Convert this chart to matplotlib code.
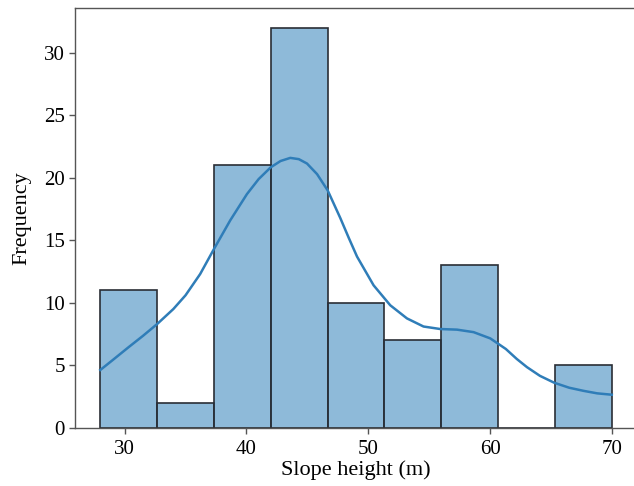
import numpy as np
import matplotlib
matplotlib.use("Agg")
import matplotlib.pyplot as plt

# Histogram data
counts = [11, 2, 21, 32, 10, 7, 13, 0, 5]
data_min, data_max = 28.0, 70.0

# KDE curve (x, frequency)
kde_x = [28.0, 29.0, 30.33, 31.5, 32.67, 34.0, 35.0, 36.2, 37.33, 38.67, 40.04,
         41.0, 42.0, 42.8, 43.6, 44.3, 44.97, 45.8, 46.67, 47.7, 48.4, 49.08,
         50.44, 51.81, 53.18, 54.54, 55.91, 57.29, 58.65, 60.02, 61.3, 62.2,
         63.03, 64.1, 65.27, 66.5, 67.68, 68.8, 70.0]
kde_y = [4.62, 5.4, 6.45, 7.35, 8.3, 9.5, 10.6, 12.3, 14.3, 16.6, 18.7,
         19.9, 20.85, 21.35, 21.6, 21.5, 21.15, 20.3, 19.0, 16.8, 15.2, 13.7,
         11.4, 9.8, 8.75, 8.1, 7.9, 7.85, 7.65, 7.15, 6.3, 5.5,
         4.85, 4.15, 3.6, 3.2, 2.95, 2.75, 2.64]

plt.rcParams['font.family'] = ['Liberation Serif', 'DejaVu Serif']

fig = plt.figure(figsize=(6.34, 4.86), dpi=100)
ax = fig.add_axes([74.7 / 634, 1 - 427.7 / 486, 562.7 / 634, (427.7 - 8) / 486])

edges = np.linspace(data_min, data_max, len(counts) + 1)
widths = np.diff(edges)
ax.bar(edges[:-1], counts, width=widths, align='edge',
       color=(0.12, 0.467, 0.706, 0.5), edgecolor='#2a2e35', linewidth=1.2, zorder=2)
ax.plot(kde_x, kde_y, color='#2f7db8', linewidth=1.8, zorder=3,
        solid_joinstyle='round')

span = data_max - data_min
ax.set_xlim(data_min - 0.05 * span, data_max + 0.05 * span)
ax.set_ylim(0, max(counts) * 1.05)
ax.set_xticks([30, 40, 50, 60, 70])
ax.set_yticks([0, 5, 10, 15, 20, 25, 30])

for s in ['top', 'left', 'bottom']:
    ax.spines[s].set_color('#555555')
    ax.spines[s].set_linewidth(1.0)
ax.spines['right'].set_visible(False)

ax.tick_params(axis='both', labelsize=15, length=4, width=1, color='#555555')
ax.tick_params(axis='x', pad=5)
ax.tick_params(axis='y', pad=3)
ax.set_xlabel('Slope height (m)', fontsize=16, labelpad=1)
ax.set_ylabel('Frequency', fontsize=16, labelpad=9)

fig.savefig('out.png', dpi=100)
